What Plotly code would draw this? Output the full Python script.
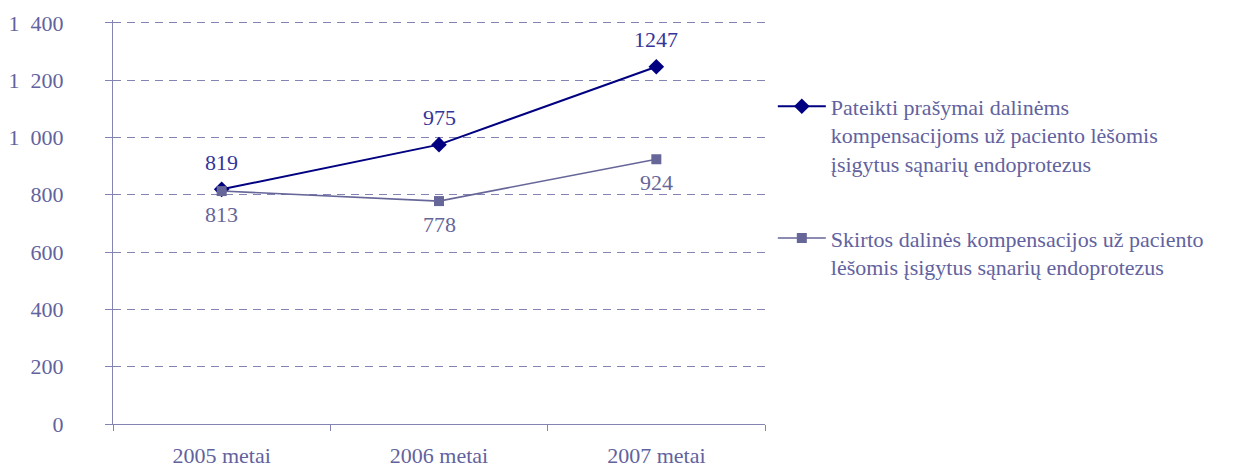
import plotly.graph_objects as go

# Categories and series values
years = ["2005 metai", "2006 metai", "2007 metai"]
requests = [819, 975, 1247]
granted = [813, 778, 924]
requests_name = "Pateikti prašymai dalinėms<br>kompensacijoms už paciento lėšomis<br>įsigytus sąnarių endoprotezus"
granted_name = "Skirtos dalinės kompensacijos už paciento<br>lėšomis įsigytus sąnarių endoprotezus"
y_ticks = [0, 200, 400, 600, 800, 1000, 1200, 1400]
y_ticktext = ["0", "200", "400", "600", "800", "1\u2002000", "1\u2002200", "1\u2002400"]

FONT = "Liberation Serif, Times New Roman, serif"
NAVY = "#000080"
SLATE = "#666699"
AXIS = "#8484b4"
TEXT = "#62629e"

fig = go.Figure()
fig.add_trace(go.Scatter(
    x=years, y=requests, name=requests_name, mode="lines+markers",
    line=dict(color=NAVY, width=2),
    marker=dict(symbol="diamond", size=12, color=NAVY),
    legendgroup="a",
))
fig.add_trace(go.Scatter(
    x=years, y=granted, name=granted_name, mode="lines+markers",
    line=dict(color=SLATE, width=1.6),
    marker=dict(symbol="square", size=10, color=SLATE),
    legendgroup="b",
))

# Value labels: requests above the points, granted below
for xv, yv in zip(years, requests):
    fig.add_annotation(x=xv, y=yv, text=str(yv), showarrow=False, yshift=27,
                       font=dict(family=FONT, size=22, color="#353599"))
for xv, yv in zip(years, granted):
    fig.add_annotation(x=xv, y=yv, text=str(yv), showarrow=False, yshift=-23,
                       font=dict(family=FONT, size=22, color=SLATE))

fig.update_layout(
    width=1246, height=469,
    margin=dict(l=113, r=481, t=20, b=45, autoexpand=False),
    paper_bgcolor="white", plot_bgcolor="white",
    font=dict(family=FONT, size=22, color=TEXT),
    showlegend=True,
    legend=dict(
        x=1.012, y=0.838, xanchor="left", yanchor="top",
        valign="top", tracegroupgap=43, itemwidth=48,
        font=dict(family=FONT, size=22, color=TEXT),
        bgcolor="rgba(0,0,0,0)",
    ),
)
fig.update_xaxes(
    type="category", range=[-0.5, 2.5], automargin=False,
    showline=True, linecolor=AXIS, linewidth=1.3,
    ticks="outside", tickson="boundaries", ticklen=6, tickcolor=AXIS,
    showgrid=False, zeroline=False, ticklabelstandoff=11,
)
fig.update_yaxes(
    range=[0, 1410], tickvals=y_ticks, ticktext=y_ticktext, automargin=False,
    showline=True, linecolor=AXIS, linewidth=1.3,
    ticks="outside", ticklen=7, tickcolor=AXIS,
    showgrid=True, gridcolor=AXIS, griddash="8px,6px", gridwidth=1,
    zeroline=False, ticklabelstandoff=37,
)

fig.write_html("out.html")
